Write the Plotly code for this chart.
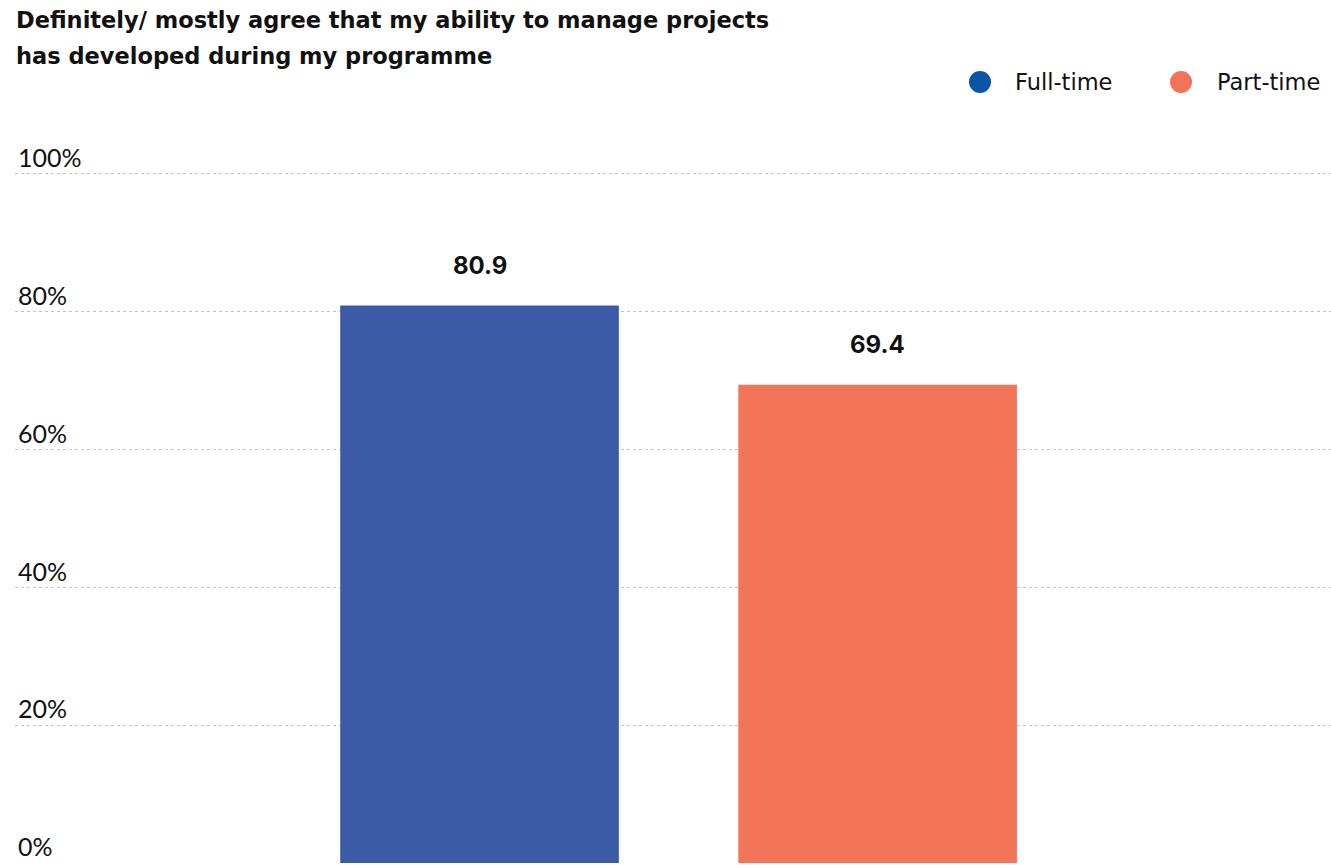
import plotly.graph_objects as go

categories = ["Full-time", "Part-time"]
values = [80.9, 69.4]
bar_colors = ["#3B5BA7", "#F2755A"]
legend_colors = ["#0B55A8", "#F37358"]
y_ticks = [0, 20, 40, 60, 80, 100]
y_ticktext = ["0%", "20%", "40%", "60%", "80%", "100%"]
title_lines = ["Definitely/ mostly agree that my ability to manage projects",
               "has developed during my programme"]

W, H = 1331, 865
L, R, T, B = 15, 0, 105, 2
PW, PH = W - L - R, H - T - B


def px_x(px):
    return (px - L) / PW


def px_y(py):
    return (H - B - py) / PH


fig = go.Figure()
fig.add_trace(go.Bar(
    x=categories, y=values, marker=dict(color=bar_colors, line=dict(width=0)),
    width=0.70, showlegend=False, hoverinfo="skip",
))

for c, v in zip(categories, values):
    fig.add_annotation(x=c, y=v, xref="x", yref="y", text=f"<b>{v:.1f}</b>",
                       showarrow=False, yanchor="middle", yshift=40,
                       font=dict(family="Inter", size=24, color="#111111"))

# title as two lines
for i, line in enumerate(title_lines):
    fig.add_annotation(x=px_x(14), y=px_y(20 + 36 * i), xref="paper", yref="paper",
                       text=f"<b>{line}</b>", showarrow=False,
                       xanchor="left", yanchor="middle",
                       font=dict(family="DejaVu Sans", size=22.5, color="#111111"))

# custom legend with large circles
legend_pos = [(980, 1013), (1181, 1215)]
for name, col, (cx, tx) in zip(categories, legend_colors, legend_pos):
    fig.add_shape(type="circle", xref="paper", yref="paper",
                  xsizemode="pixel", ysizemode="pixel",
                  xanchor=px_x(cx), yanchor=px_y(82),
                  x0=-11, x1=11, y0=-11, y1=11,
                  fillcolor=col, line=dict(width=0))
    fig.add_annotation(x=px_x(tx), y=px_y(82), xref="paper", yref="paper",
                       text=name, showarrow=False, xanchor="left", yanchor="middle",
                       font=dict(family="DejaVu Sans", size=22.5, color="#111111"))

fig.update_layout(
    width=W, height=H,
    margin=dict(l=L, r=R, t=T, b=B),
    paper_bgcolor="white", plot_bgcolor="white",
    showlegend=False,
    xaxis=dict(range=[-1.167, 2.139], showticklabels=False, showgrid=False,
               zeroline=False, showline=False, fixedrange=True),
    yaxis=dict(range=[0, 110], tickvals=y_ticks, ticktext=y_ticktext,
               ticklabelposition="inside top", showgrid=True,
               gridcolor="#C4C4C4", griddash="dot", gridwidth=1,
               zeroline=False, showline=False, ticklabelstandoff=0,
               ticklabelshift=2,
               tickfont=dict(family="Lato", size=25, color="#111111")),
    hovermode=False,
)

fig.write_html("out.html")
